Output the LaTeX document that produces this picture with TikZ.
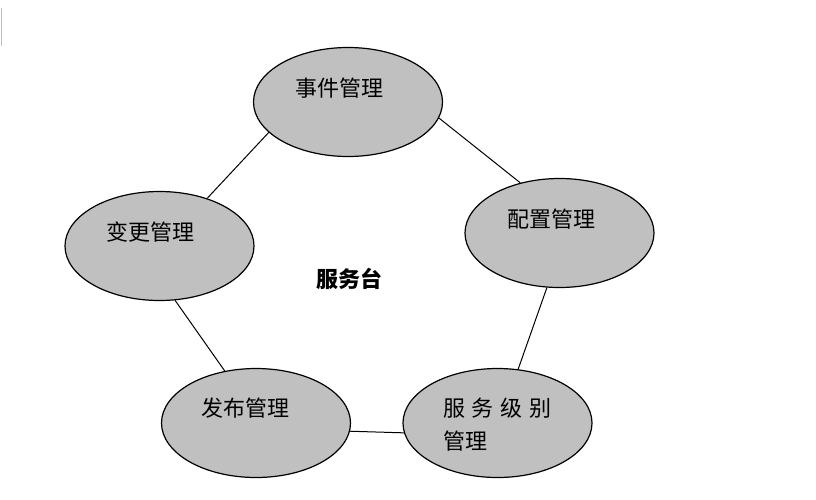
\documentclass[tikz,border=0pt]{standalone}
\usepackage{fontspec}
\newfontfamily\cjk{Noto Sans CJK SC}
\usetikzlibrary{shapes.geometric}
\tikzset{
  proc/.style={ellipse, draw=black, line width=1.2pt, fill={rgb,255:red,192;green,192;blue,192}, minimum width=189pt, minimum height=109pt, inner sep=0pt},
  lbl/.style={font=\cjk\fontsize{22}{26}\selectfont, inner sep=0pt},
  conn/.style={draw=black, line width=1pt}
}
\begin{document}
\begin{tikzpicture}[x=1pt,y=-1pt]
\useasboundingbox (0,0) rectangle (816,499);
\coordinate (m1) at (1.5,8);
\coordinate (m2) at (1.5,46);
\draw[line width=1pt, draw={rgb,255:red,190;green,190;blue,190}] (m1) -- (m2);
\node[proc] (sj) at (348,102) {};
\node[proc] (pz) at (559.5,233) {};
\node[proc] (bg) at (159.5,246) {};
\node[proc] (fb) at (256,423) {};
\node[proc] (fw) at (497.5,423) {};
\node[lbl] (tsj) at (339.5,88) {事件管理};
\node[lbl] (tpz) at (551.5,219) {配置管理};
\node[lbl] (tbg) at (150.5,232.5) {变更管理};
\node[lbl] (tfb) at (245,408.5) {发布管理};
\node[lbl, anchor=west] (tfw1) at (443,408.5) {服\hspace{6.7pt}务\hspace{6.7pt}级\hspace{6.7pt}别};
\node[lbl, anchor=west] (tfw2) at (443,441) {管理};
\node[lbl, font=\cjk\bfseries\fontsize{22}{26}\selectfont] (center) at (349.5,279) {服务台};
\draw[conn] (sj.-10) -- (pz.128.9);
\draw[conn] (sj.-159.1) -- (bg.45.9);
\draw[conn] (bg.-74) -- (fb.121.9);
\draw[conn] (fb.-5.5) -- (fw.-174.5);
\draw[conn] (pz.-103) -- (fw.69.6);
\end{tikzpicture}
\end{document}
